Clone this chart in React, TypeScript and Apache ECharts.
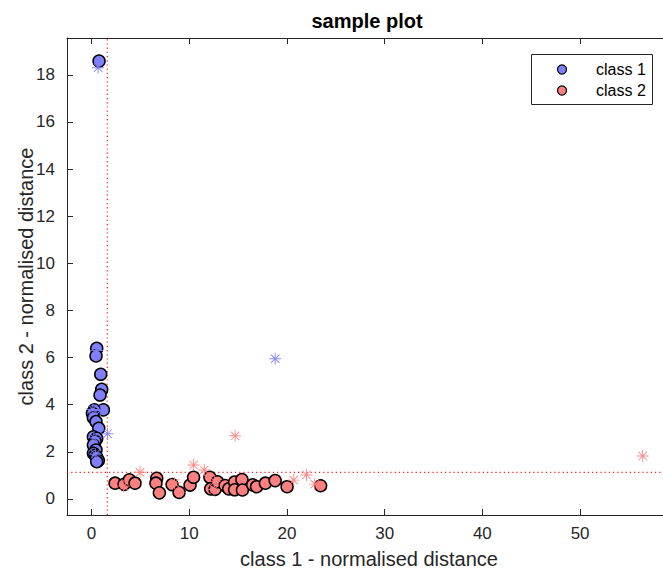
import React, { useEffect, useRef } from 'react';
import * as echarts from 'echarts';

const titleText = 'sample plot';
const xAxisName = 'class 1 - normalised distance';
const yAxisName = 'class 2 - normalised distance';
const legendLabels = ['class 1', 'class 2'];

const xTicks = [0, 10, 20, 30, 40, 50];
const yTicks = [0, 2, 4, 6, 8, 10, 12, 14, 16, 18];
const xRange = [-2.5, 59.3];
const yRange = [-0.68, 19.56];

const xThreshold = 1.62;
const yThreshold = 1.13;

const class1Points: number[][] = [
  [0.78, 18.58],
  [0.54, 6.39], [0.47, 6.07], [0.95, 5.29], [1.05, 4.65], [0.88, 4.41],
  [1.22, 3.78], [0.3, 3.78], [0.1, 3.64], [0.2, 3.45], [0.47, 3.28],
  [0.75, 3.0], [0.2, 2.64], [0.54, 2.57], [0.37, 2.45], [0.2, 2.29],
  [0.47, 2.08], [0.2, 1.94], [0.37, 1.85], [0.54, 1.78], [0.71, 1.63],
  [0.54, 1.58],
];

const class2Points: number[][] = [
  [2.42, 0.67], [3.34, 0.62], [3.88, 0.81], [4.46, 0.67], [6.68, 0.88],
  [6.6, 0.67], [6.95, 0.26], [8.25, 0.61], [8.97, 0.28], [10.09, 0.59],
  [10.45, 0.92], [12.12, 0.92], [12.2, 0.43], [12.65, 0.41], [12.9, 0.73],
  [13.67, 0.57], [14.05, 0.43], [14.65, 0.72], [14.65, 0.39], [15.4, 0.82],
  [15.45, 0.38], [16.5, 0.6], [16.9, 0.52], [17.8, 0.67], [18.8, 0.78],
  [20.02, 0.52], [23.45, 0.56],
];

const class1Stars: number[][] = [
  [0.68, 18.3], [1.65, 2.77], [18.8, 5.95], [0.15, 3.8], [0.55, 6.3],
  [0.9, 3.75], [0.25, 2.6], [0.4, 1.9],
];

const class2Stars: number[][] = [
  [4.97, 1.13], [3.3, 0.55], [10.45, 1.44], [11.55, 1.23], [8.5, 0.68],
  [12.55, 0.4], [14.7, 2.68], [20.7, 0.8], [22.0, 1.02], [22.85, 0.63],
  [56.4, 1.82], [12.6, 0.75],
];

const blue = '#8080ff';
const red = '#ff8080';
const lineRed = '#ff0000';
const axisColor = '#262626';
const fontFamily = '"Liberation Sans", Arial, Helvetica, sans-serif';

const starPath =
  'path://M0 46 L100 46 L100 54 L0 54 Z M46 0 L54 0 L54 100 L46 100 Z ' +
  'M17.8 12.2 L87.8 82.2 L82.2 87.8 L12.2 17.8 Z M87.8 17.8 L17.8 87.8 L12.2 82.2 L82.2 12.2 Z';

export default function App() {
  const ref = useRef<HTMLDivElement>(null);

  useEffect(() => {
    if (!ref.current) return;
    const chart = echarts.init(ref.current, undefined, { renderer: 'svg' });

    const circleStyle = (color: string) => ({
      color,
      borderColor: '#000000',
      borderWidth: 1.5,
      opacity: 1,
    });

    const thresholdLine = (data: number[][]) => ({
      type: 'line',
      data,
      symbol: 'none',
      silent: true,
      z: 1,
      lineStyle: { color: lineRed, type: [1.2, 3], width: 1.2, opacity: 0.9 },
      itemStyle: { color: lineRed },
      emphasis: { disabled: true },
    });

    chart.setOption({
      animation: false,
      backgroundColor: '#ffffff',
      grid: {
        left: 67,
        top: 38,
        right: -8,
        bottom: 55,
        containLabel: false,
        outerBoundsMode: 'none',
      },
      xAxis: [
        {
          type: 'value',
          min: xRange[0],
          max: xRange[1],
          position: 'bottom',
          name: xAxisName,
          nameLocation: 'middle',
          nameGap: 34,
          nameMoveOverlap: false,
          nameTextStyle: { color: axisColor, fontSize: 20, lineHeight: 20, fontFamily },
          axisLine: { show: true, onZero: false, lineStyle: { color: axisColor, width: 1 } },
          axisTick: { show: true, inside: true, length: 6, customValues: xTicks, lineStyle: { color: axisColor } },
          axisLabel: { show: true, customValues: xTicks, color: axisColor, fontSize: 17, fontFamily, margin: 10 },
          splitLine: { show: false },
        },
        {
          type: 'value',
          min: xRange[0],
          max: xRange[1],
          position: 'top',
          axisLine: { show: true, onZero: false, lineStyle: { color: axisColor, width: 1 } },
          axisTick: { show: true, inside: true, length: 6, customValues: xTicks, lineStyle: { color: axisColor } },
          axisLabel: { show: false },
          splitLine: { show: false },
        },
      ],
      yAxis: [
        {
          type: 'value',
          min: yRange[0],
          max: yRange[1],
          position: 'left',
          name: yAxisName,
          nameLocation: 'middle',
          nameGap: 31,
          nameMoveOverlap: false,
          nameTextStyle: { color: axisColor, fontSize: 20, fontFamily },
          axisLine: { show: true, onZero: false, lineStyle: { color: axisColor, width: 1 } },
          axisTick: { show: true, inside: true, length: 6, customValues: yTicks, lineStyle: { color: axisColor } },
          axisLabel: { show: true, customValues: yTicks, color: axisColor, fontSize: 17, fontFamily, margin: 12 },
          splitLine: { show: false },
        },
      ],
      series: [
        thresholdLine([[xThreshold, yRange[0]], [xThreshold, yRange[1]]]),
        thresholdLine([[xRange[0], yThreshold], [xRange[1], yThreshold]]),
        {
          name: legendLabels[0],
          type: 'scatter',
          data: class1Points,
          symbol: 'circle',
          symbolSize: 12,
          itemStyle: circleStyle(blue),
          z: 2,
        },
        {
          name: legendLabels[1],
          type: 'scatter',
          data: class2Points,
          symbol: 'circle',
          symbolSize: 12,
          itemStyle: circleStyle(red),
          z: 2,
        },
        {
          name: 'class 1 test',
          type: 'scatter',
          data: class1Stars,
          symbol: starPath,
          symbolSize: 12,
          itemStyle: { color: blue, opacity: 0.9 },
          z: 3,
        },
        {
          name: 'class 2 test',
          type: 'scatter',
          data: class2Stars,
          symbol: starPath,
          symbolSize: 12,
          itemStyle: { color: red, opacity: 0.9 },
          z: 3,
        },
      ],
      graphic: [
        {
          type: 'text',
          x: 367,
          y: 21,
          style: {
            text: titleText,
            align: 'center',
            verticalAlign: 'middle',
            font: `bold 20px ${fontFamily}`,
            fill: '#000000',
          },
        },
        {
          type: 'group',
          children: [
            {
              type: 'rect',
              shape: { x: 531.5, y: 54.5, width: 121, height: 50 },
              style: { fill: '#ffffff', stroke: axisColor, lineWidth: 1 },
            },
            {
              type: 'circle',
              shape: { cx: 562, cy: 69.5, r: 4.5 },
              style: { fill: blue, stroke: '#000000', lineWidth: 1.2 },
            },
            {
              type: 'circle',
              shape: { cx: 562, cy: 90.5, r: 4.5 },
              style: { fill: red, stroke: '#000000', lineWidth: 1.2 },
            },
            {
              type: 'text',
              x: 596,
              y: 69.5,
              style: { text: legendLabels[0], verticalAlign: 'middle', font: `16px ${fontFamily}`, fill: '#000000' },
            },
            {
              type: 'text',
              x: 596,
              y: 90.5,
              style: { text: legendLabels[1], verticalAlign: 'middle', font: `16px ${fontFamily}`, fill: '#000000' },
            },
          ],
        },
      ],
    });

    return () => {
      chart.dispose();
    };
  }, []);

  return (
    <div
      ref={ref}
      style={{ position: 'fixed', left: 0, top: 0, width: 663, height: 570, background: '#ffffff' }}
    />
  );
}
